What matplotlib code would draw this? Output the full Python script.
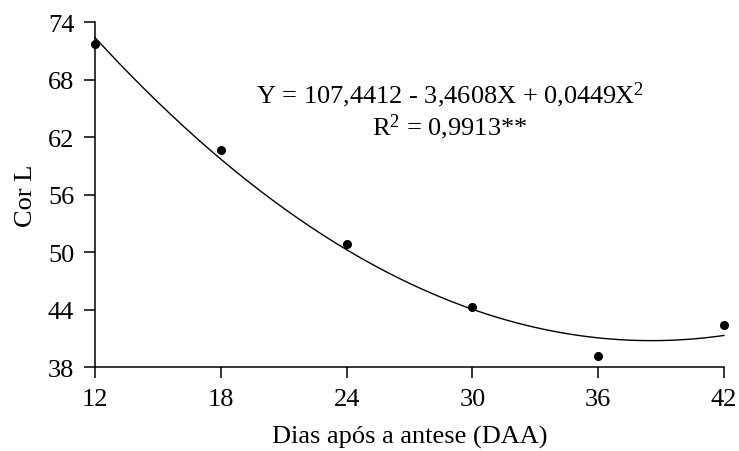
import numpy as np
import matplotlib.pyplot as plt

plt.rcParams['font.family'] = ['Liberation Serif', 'DejaVu Serif']
plt.rcParams['mathtext.fontset'] = 'custom'
plt.rcParams['mathtext.rm'] = 'Liberation Serif'
plt.rcParams['mathtext.it'] = 'Liberation Serif:italic'

# dias apos a antese e valores medios de cor L
daa = [12, 18, 24, 30, 36, 42]
cor_l = [71.7, 60.6, 50.8, 44.3, 39.1, 42.4]

# coeficientes da regressao quadratica
b0, b1, b2 = 107.4412, -3.4608, 0.0449

x_fit = np.linspace(12, 42, 200)
y_fit = b0 + b1 * x_fit + b2 * x_fit ** 2

fig = plt.figure(figsize=(7.39, 4.52), dpi=100)
ax = fig.add_axes([0.1286, 0.1858, 0.851, 0.7632])

ax.plot(x_fit, y_fit, color='black', lw=1.0, clip_on=False)
ax.plot(daa, cor_l, 'o', color='black', ms=5.5, clip_on=False)

ax.set_xlim(12, 42)
ax.set_ylim(38, 74)
ax.set_xticks(daa)
ax.set_yticks([38, 44, 50, 56, 62, 68, 74])

for s in ['top', 'right']:
    ax.spines[s].set_visible(False)
for s in ['left', 'bottom']:
    ax.spines[s].set_linewidth(1.1)
ax.tick_params(direction='out', length=8, width=1.1, labelsize=19, pad=7)

ax.set_xlabel('Dias após a antese (DAA)', fontsize=19, labelpad=11)
ax.set_ylabel('Cor L', fontsize=19, labelpad=8)

fig.text(0.609, 0.7898, 'Y = 107,4412 - 3,4608X + 0,0449X$^{2}$', fontsize=19,
         ha='center', va='center')
fig.text(0.609, 0.719, 'R$^{2}$ = 0,9913**', fontsize=19,
         ha='center', va='center')

fig.savefig('out.png', dpi=100)
